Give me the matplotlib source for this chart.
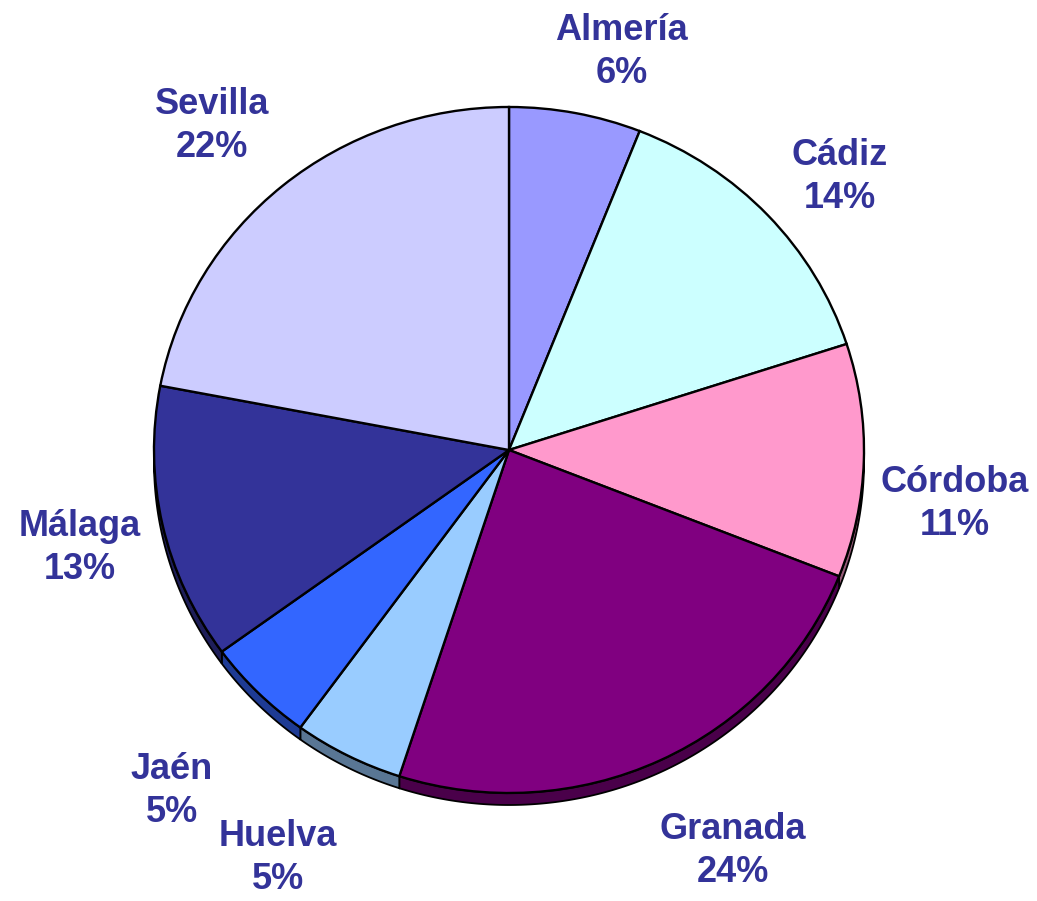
import numpy as np
import matplotlib.pyplot as plt
from matplotlib.patches import Polygon
from matplotlib.transforms import Affine2D
from matplotlib.colors import to_rgb

# Du lieu
provincias = ['Almería', 'Cádiz', 'Córdoba', 'Granada', 'Huelva', 'Jaén', 'Málaga', 'Sevilla']
porcentajes = [6, 14, 11, 24, 5, 5, 13, 22]
colores = ['#9999FF', '#CCFFFF', '#FF99CC', '#800080', '#99CCFF', '#3366FF', '#333399', '#CCCCFF']

# Vi tri nhan (toa do chuan hoa theo ban kinh cua banh)
label_pos = [(0.318, 1.160), (0.932, 0.795), (1.256, -0.158), (0.631, -1.170),
             (-0.651, -1.190), (-0.949, -0.993), (-1.208, -0.287), (-0.837, 0.945)]

# Hinh hoc cua banh 3D (pixel)
cx, cy = 509, 451
rx, ry = 355, 343
depth = 12
text_color = '#333399'

fig = plt.figure(figsize=(10.37, 9.01), dpi=100)
ax = fig.add_axes([0, 0, 1, 1])

# Goc cua tung lat (chieu kim dong ho tu phia tren)
fr = np.array(porcentajes) / np.sum(porcentajes)
cum = np.concatenate([[0], np.cumsum(fr)])
a_start = 90 - cum[:-1] * 360
a_end = 90 - cum[1:] * 360

# Mat ben (chi phan phia truoc, noi sin < 0)
for i in range(len(provincias)):
    t = np.linspace(np.radians(a_end[i]), np.radians(a_start[i]), 200)
    t = t[np.sin(t) < 0.02]
    if len(t) < 2:
        continue
    x = cx + rx * np.cos(t)
    y = cy + ry * np.sin(t)
    pts = np.column_stack([np.concatenate([x, x[::-1]]),
                           np.concatenate([y, y[::-1] - depth])])
    dark = tuple(c * 0.58 for c in to_rgb(colores[i]))
    ax.add_patch(Polygon(pts, closed=True, facecolor=dark, edgecolor='black', lw=1.3, zorder=1))

# Mat tren
wedges, _ = ax.pie(porcentajes, colors=colores, startangle=90, counterclock=False,
                   wedgeprops=dict(edgecolor='black', linewidth=1.7))
tr = Affine2D().scale(rx, ry).translate(cx, cy) + ax.transData
for w in wedges:
    w.set_transform(tr)
    w.set_zorder(2)
ax.set_xlim(0, 1037)
ax.set_ylim(0, 901)
ax.set_aspect('auto')
ax.axis('off')

# Nhan
for i, nombre in enumerate(provincias):
    lx = cx + rx * label_pos[i][0]
    ly = cy + ry * label_pos[i][1]
    ax.text(lx, ly, f'{nombre}\n{porcentajes[i]}%', ha='center', va='center',
            fontsize=26, fontweight='bold', color=text_color,
            family='Liberation Sans', linespacing=1.3, zorder=3)

plt.savefig('out.png', dpi=100)
